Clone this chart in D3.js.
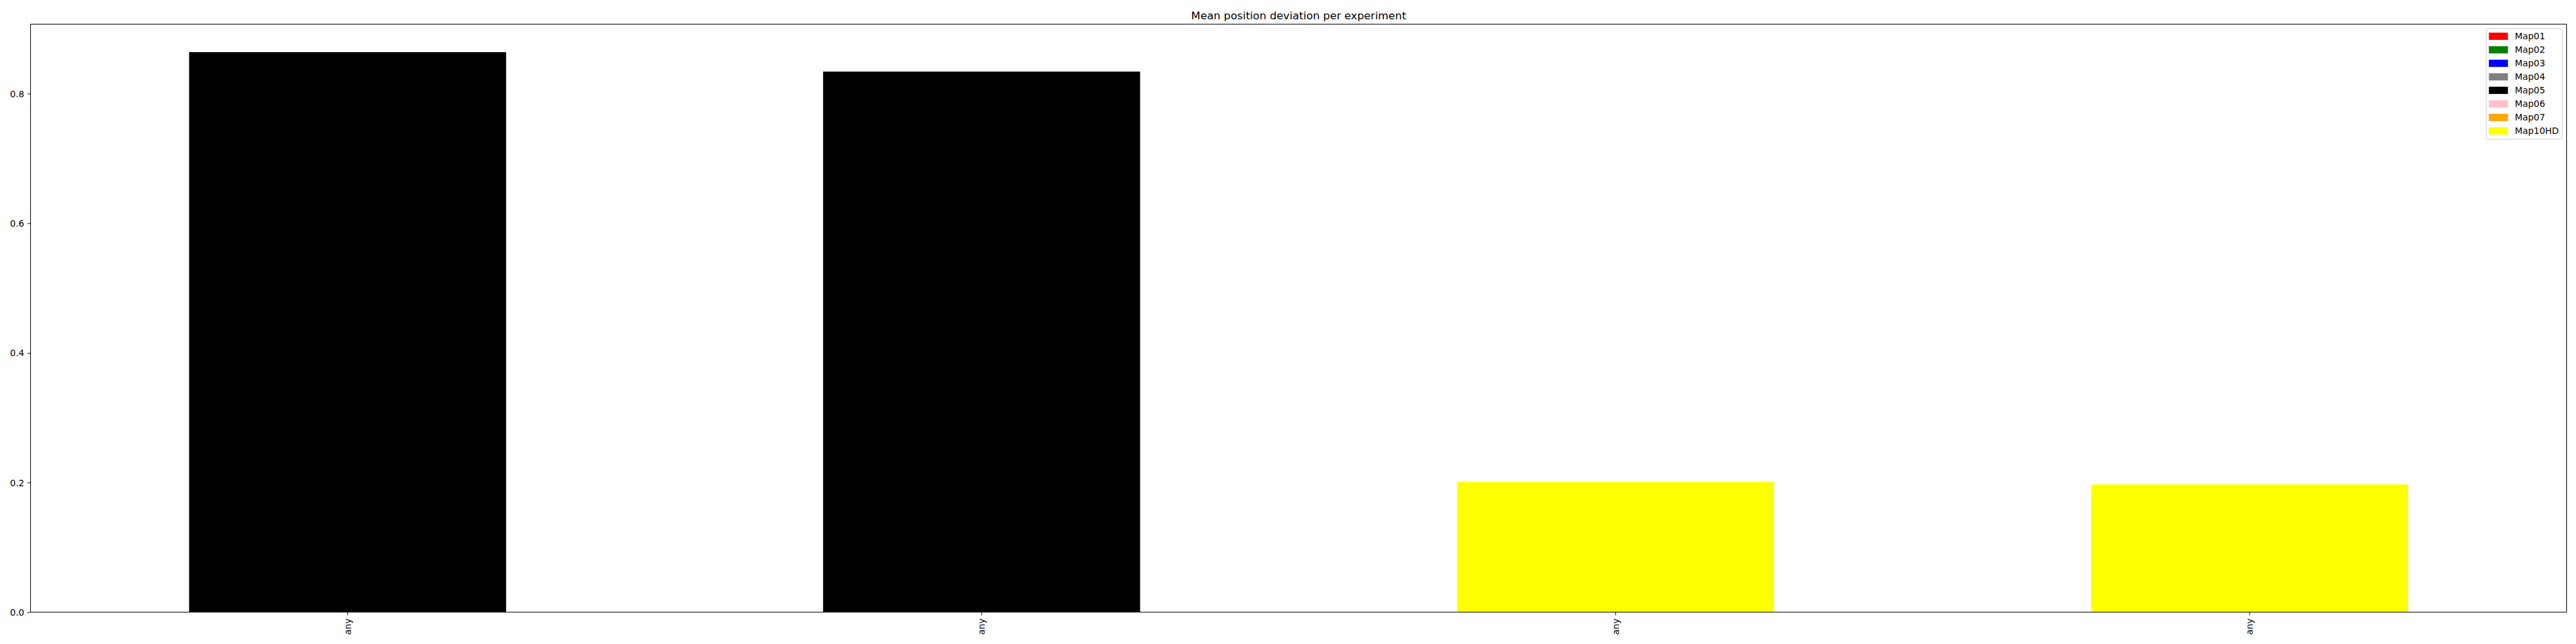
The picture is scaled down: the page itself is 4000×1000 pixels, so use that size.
<!DOCTYPE html>
<html>
<head>
<meta charset="utf-8">
<script src="https://cdn.jsdelivr.net/npm/d3@7"></script>
<style>
  html, body { margin: 0; padding: 0; background: #fff; }
  svg { display: block; font-family: "DejaVu Sans", sans-serif; }
</style>
</head>
<body>
<svg id="chart" width="4000" height="1000"></svg>
<script>
// ---- data ----
const title = "Mean position deviation per experiment";
const categories = ["any", "any", "any", "any"];
const values = [0.864, 0.834, 0.201, 0.197];
const barMaps = ["Map05", "Map05", "Map10HD", "Map10HD"];
const legendMaps = ["Map01", "Map02", "Map03", "Map04", "Map05", "Map06", "Map07", "Map10HD"];
const legendColors = ["red", "green", "blue", "gray", "black", "pink", "orange", "yellow"];
const yTicks = [0.0, 0.2, 0.4, 0.6, 0.8];

// ---- layout ----
const svg = d3.select("#chart");
const margin = { left: 47.5, right: 4000 - 3985.5, top: 37.5, bottom: 1000 - 950.5 };
const W = 4000 - margin.left - margin.right;
const H = 1000 - margin.top - margin.bottom;
const g = svg.append("g").attr("transform", `translate(${margin.left},${margin.top})`);

const colorOf = d3.scaleOrdinal().domain(legendMaps).range(legendColors);

const x = d3.scaleBand()
  .domain(categories.map((_, i) => i))
  .range([0, W])
  .paddingInner(0.5)
  .paddingOuter(0.25);

const yMax = d3.max(values) * 1.05;
const y = d3.scaleLinear().domain([0, yMax]).range([H, 0]);

// bars
g.selectAll("rect.bar")
  .data(values)
  .join("rect")
  .attr("class", "bar")
  .attr("x", (d, i) => x(i))
  .attr("width", x.bandwidth())
  .attr("y", d => y(d))
  .attr("height", d => H - y(d))
  .attr("fill", (d, i) => colorOf(barMaps[i]));

// y axis
const yAxis = g.append("g")
  .call(d3.axisLeft(y).tickValues(yTicks).tickFormat(d3.format(".1f")).tickSize(4.9).tickPadding(4.9));
yAxis.select(".domain").remove();
yAxis.selectAll("line").attr("stroke", "#000").attr("stroke-width", 1);
yAxis.selectAll("text").attr("font-size", "13.9px").attr("fill", "#000")
  .attr("font-family", "DejaVu Sans").attr("dy", "0.36em");

// x axis
const xAxis = g.append("g")
  .attr("transform", `translate(0,${H})`)
  .call(d3.axisBottom(x).tickFormat(i => categories[i]).tickSize(4.9).tickPadding(4.9));
xAxis.select(".domain").remove();
xAxis.selectAll("line").attr("stroke", "#000").attr("stroke-width", 1);
xAxis.selectAll("text")
  .attr("font-size", "13.9px").attr("fill", "#000").attr("font-family", "DejaVu Sans")
  .attr("text-anchor", "end")
  .attr("x", 0).attr("y", 0)
  .attr("dy", "0.35em")
  .attr("transform", "translate(0,9.8) rotate(-90)");

// frame
g.append("rect")
  .attr("x", 0).attr("y", 0).attr("width", W).attr("height", H)
  .attr("fill", "none").attr("stroke", "#000").attr("stroke-width", 1);

// title
svg.append("text")
  .attr("x", margin.left + W / 2)
  .attr("y", 29.5)
  .attr("text-anchor", "middle")
  .attr("font-size", "16.7px")
  .attr("fill", "#000")
  .text(title);

// legend
const lg = svg.append("g");
lg.append("rect")
  .attr("x", 3860.5).attr("y", 44.5)
  .attr("width", 3978.5 - 3860.5).attr("height", 216 - 44.5)
  .attr("rx", 2.8).attr("ry", 2.8)
  .attr("fill", "#fff").attr("fill-opacity", 0.8)
  .attr("stroke", "#cccccc").attr("stroke-width", 1);
const items = lg.selectAll("g.item")
  .data(legendMaps)
  .join("g")
  .attr("class", "item")
  .attr("transform", (d, i) => `translate(0,${56.3 + i * 21})`);
items.append("rect")
  .attr("x", 3864.7).attr("y", -5.6)
  .attr("width", 29.6).attr("height", 11.2)
  .attr("fill", d => colorOf(d));
items.append("text")
  .attr("x", 3905)
  .attr("y", 0)
  .attr("dy", "0.36em")
  .attr("font-size", "13.9px")
  .attr("fill", "#000")
  .text(d => d);
</script>
</body>
</html>
